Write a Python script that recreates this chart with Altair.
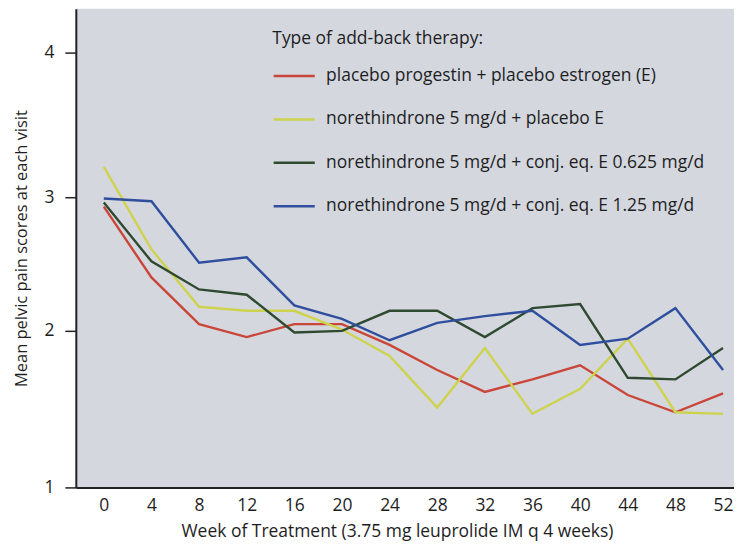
import altair as alt
import pandas as pd

weeks = [0, 4, 8, 12, 16, 20, 24, 28, 32, 36, 40, 44, 48, 52]
series_names = [
    "placebo progestin + placebo estrogen (E)",
    "norethindrone 5 mg/d + placebo E",
    "norethindrone 5 mg/d + conj. eq. E 0.625 mg/d",
    "norethindrone 5 mg/d + conj. eq. E 1.25 mg/d",
]
placebo = [2.93, 2.40, 2.05, 1.96, 2.05, 2.05, 1.91, 1.75, 1.61, 1.69, 1.78, 1.59, 1.48, 1.60]
noreth_placebo = [3.21, 2.61, 2.18, 2.15, 2.15, 2.01, 1.84, 1.51, 1.89, 1.47, 1.63, 1.95, 1.48, 1.47]
noreth_0625 = [2.96, 2.52, 2.31, 2.27, 1.99, 2.00, 2.15, 2.15, 1.96, 2.17, 2.20, 1.70, 1.69, 1.89]
noreth_125 = [2.99, 2.97, 2.51, 2.55, 2.19, 2.09, 1.94, 2.06, 2.11, 2.15, 1.91, 1.95, 2.17, 1.75]
colors = ["#c9473a", "#cdd34e", "#2f4a30", "#2f4f9e"]
y_ticks = [1, 2, 3, 4]

rows = []
for name, vals in zip(series_names, [placebo, noreth_placebo, noreth_0625, noreth_125]):
    for w, v in zip(weeks, vals):
        rows.append({"week": w, "score": v, "therapy": name})
df = pd.DataFrame(rows)

W, H = 660, 480
FONT = "Open Sans"
FS = 17.5
TXT = "#1e1e1e"

chart = alt.Chart(df).mark_line(strokeWidth=2.4, clip=True).encode(
    x=alt.X("week:Q",
            scale=alt.Scale(domain=[-2.35, 52 + (W - 28 - 621) / 11.94], nice=False, zero=False),
            axis=alt.Axis(values=weeks, title="Week of Treatment (3.75 mg leuprolide IM q 4 weeks)",
                          ticks=False, grid=False, domainColor="#222", domainWidth=2,
                          labelPadding=9, titlePadding=9, titleX=322,
                          labelFontSize=FS, titleFontSize=FS, labelColor=TXT, titleColor=TXT,
                          labelFont=FONT, titleFont=FONT, titleFontWeight="normal")),
    y=alt.Y("score:Q",
            scale=alt.Scale(domain=[1, 2, 3, 4, 4.30], range=[H, H - 157, H - 291, H - 436, 0],
                            nice=False, zero=False),
            axis=alt.Axis(values=y_ticks, title="Mean pelvic pain scores at each visit",
                          grid=False, domainColor="#222", domainWidth=2, tickColor="#222",
                          tickSize=11, tickWidth=1.5, labelPadding=11, titlePadding=14,
                          labelFontSize=FS, titleFontSize=16.5, labelColor=TXT, titleColor=TXT,
                          labelFont=FONT, titleFont=FONT, titleFontWeight="normal")),
    color=alt.Color("therapy:N",
                    scale=alt.Scale(domain=series_names, range=colors),
                    legend=alt.Legend(title="Type of add-back therapy:", orient="none",
                                      legendX=197, legendY=21, symbolType="stroke",
                                      symbolSize=1700, symbolStrokeWidth=2.5,
                                      labelFontSize=FS, titleFontSize=FS, labelFont=FONT,
                                      titleFont=FONT, titleFontWeight="normal",
                                      labelColor=TXT, titleColor=TXT, titlePadding=7,
                                      rowPadding=12.5, labelOffset=10, labelLimit=500,
                                      titleLimit=500)),
).properties(width=W, height=H, padding={"left": 5, "top": 0, "right": 0, "bottom": 3},
             background="white").configure_view(
    fill="#d4d7de", stroke=None
)

chart.save("out.html", embed_options={"renderer": "svg", "actions": False})
